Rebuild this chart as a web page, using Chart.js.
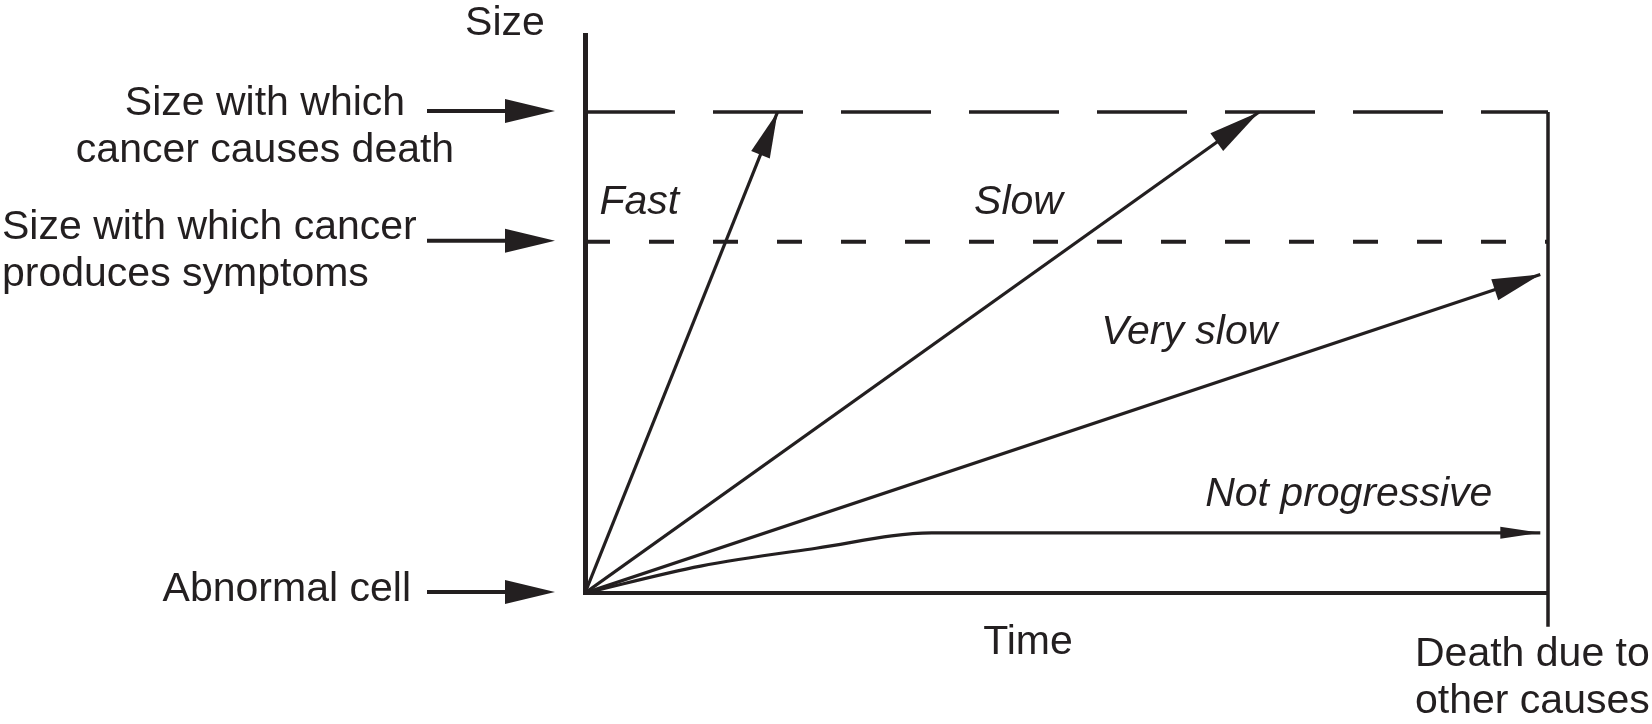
<!DOCTYPE html>
<html>
<head>
<meta charset="utf-8">
<script src="https://cdn.jsdelivr.net/npm/chart.js@4/dist/chart.umd.min.js"></script>
<style>
  html, body { margin: 0; padding: 0; background: #fff; }
  #wrap { width: 1652px; height: 724px; }
</style>
</head>
<body>
<div id="wrap"><canvas id="growthChart" width="1652" height="724"></canvas></div>
<script>
// Time runs 0..100 (death from other causes at 100); size 0 = abnormal cell
const timeRange = [0, 100];
const sizeRange = [0, 116];
const deathSize = 100;
const symptomSize = 73;
const otherDeathTime = 100;
const otherDeathLineSize = [100, -7];

const levelValues = [100, 73, 0];
const levelLabels = [
  ["Size with which", "cancer causes death"],
  ["Size with which cancer", "produces symptoms"],
  ["Abnormal cell"]
];

const growthNames = ["Fast", "Slow", "Very slow", "Not progressive"];
const fastTime = [0, 20];
const fastSize = [0, 100];
const slowTime = [0, 70];
const slowSize = [0, 100];
const verySlowTime = [0, 99.2];
const verySlowSize = [0, 66.2];
const notProgTime = [0, 12, 24, 36, 99.2];
const notProgSize = [0, 5.6, 9.3, 12.5, 12.5];

const axisNames = { y: "Size", x: "Time", end: ["Death due to", "other causes"] };

const INK = "#231f20";
const FONT = '"Liberation Sans", Arial, Helvetica, sans-serif';

function pairs(xs, ys) {
  return xs.map((t, i) => ({ x: t, y: ys[i] }));
}

function growthSet(label, xs, ys, head, extra) {
  return Object.assign({
    label,
    data: pairs(xs, ys),
    borderColor: INK,
    borderWidth: 3.2,
    pointRadius: 0,
    tension: 0,
    fill: false,
    arrow: head
  }, extra || {});
}

const datasets = [
  {
    label: "death level",
    data: pairs(timeRange, [deathSize, deathSize]),
    borderColor: INK,
    borderWidth: 3.5,
    borderDash: [90, 38],
    pointRadius: 0
  },
  {
    label: "symptom level",
    data: pairs(timeRange, [symptomSize, symptomSize]),
    borderColor: INK,
    borderWidth: 4,
    borderDash: [25, 39],
    pointRadius: 0
  },
  {
    label: "other death",
    data: pairs([otherDeathTime, otherDeathTime], otherDeathLineSize),
    borderColor: INK,
    borderWidth: 3.5,
    pointRadius: 0,
    clip: false
  },
  growthSet(growthNames[0], fastTime, fastSize, { len: 46, half: 10 }),
  growthSet(growthNames[1], slowTime, slowSize, { len: 52, half: 11 }),
  growthSet(growthNames[2], verySlowTime, verySlowSize, { len: 48, half: 11 }),
  growthSet(growthNames[3], notProgTime, notProgSize, { len: 40, half: 6 }, { cubicInterpolationMode: "monotone" })
];

function drawHead(ctx, x0, y0, x1, y1, len, half) {
  const a = Math.atan2(y1 - y0, x1 - x0);
  const bx = x1 - len * Math.cos(a);
  const by = y1 - len * Math.sin(a);
  const px = -Math.sin(a) * half;
  const py = Math.cos(a) * half;
  ctx.beginPath();
  ctx.moveTo(x1, y1);
  ctx.lineTo(bx + px, by + py);
  ctx.lineTo(bx - px, by - py);
  ctx.closePath();
  ctx.fill();
}

const annotate = {
  id: "annotate",
  afterDatasetsDraw(chart) {
    const { ctx, chartArea, scales } = chart;
    const xs = scales.x;
    const ys = scales.y;
    ctx.save();
    ctx.fillStyle = INK;
    ctx.strokeStyle = INK;

    // arrowheads on the growth curves
    chart.data.datasets.forEach((ds, i) => {
      if (!ds.arrow) return;
      const pts = chart.getDatasetMeta(i).data;
      const a = pts[pts.length - 2];
      const b = pts[pts.length - 1];
      drawHead(ctx, a.x, a.y, b.x, b.y, ds.arrow.len, ds.arrow.half);
    });

    // pointer arrows from the level labels to the size axis
    const left = chartArea.left;
    ctx.lineWidth = 4;
    levelValues.forEach((v) => {
      const py = ys.getPixelForValue(v) - 1;
      ctx.beginPath();
      ctx.moveTo(left - 158, py);
      ctx.lineTo(left - 70, py);
      ctx.stroke();
      drawHead(ctx, left - 158, py, left - 30, py, 50, 12);
    });

    ctx.font = "41px " + FONT;
    ctx.textBaseline = "alphabetic";

    // level labels
    const yDeath = ys.getPixelForValue(levelValues[0]);
    ctx.textAlign = "center";
    ctx.fillText(levelLabels[0][0], left - 320, yDeath + 3);
    ctx.fillText(levelLabels[0][1], left - 320, yDeath + 50);

    const ySym = ys.getPixelForValue(levelValues[1]);
    ctx.textAlign = "left";
    ctx.fillText(levelLabels[1][0], 2, ySym - 3);
    ctx.fillText(levelLabels[1][1], 2, ySym + 44);

    const yCell = ys.getPixelForValue(levelValues[2]);
    ctx.textAlign = "right";
    ctx.fillText(levelLabels[2][0], left - 174, yCell + 8);

    // axis names
    ctx.textAlign = "center";
    ctx.fillText(axisNames.y, left - 80, chartArea.top);
    ctx.fillText(axisNames.x, xs.getPixelForValue(46), chartArea.bottom + 61);
    ctx.textAlign = "left";
    const xEnd = xs.getPixelForValue(otherDeathTime);
    ctx.fillText(axisNames.end[0], xEnd - 133, chartArea.bottom + 73);
    ctx.fillText(axisNames.end[1], xEnd - 133, chartArea.bottom + 120);

    // growth names, italic, placed in data space
    ctx.font = "italic 41px " + FONT;
    ctx.fillText(growthNames[0], xs.getPixelForValue(1.5), ys.getPixelForValue(78.7));
    ctx.fillText(growthNames[1], xs.getPixelForValue(40.4), ys.getPixelForValue(78.7));
    ctx.fillText(growthNames[2], xs.getPixelForValue(53.6), ys.getPixelForValue(51.7));
    ctx.fillText(growthNames[3], xs.getPixelForValue(64.4), ys.getPixelForValue(18.1));

    ctx.restore();
  }
};

new Chart(document.getElementById("growthChart"), {
  type: "line",
  data: { datasets },
  options: {
    responsive: false,
    animation: false,
    events: [],
    layout: { padding: { left: 585, top: 35, right: 104, bottom: 131 } },
    plugins: {
      legend: { display: false },
      tooltip: { enabled: false }
    },
    scales: {
      x: {
        type: "linear",
        min: timeRange[0],
        max: timeRange[1],
        grid: { display: false, drawTicks: false },
        ticks: { display: false },
        border: { display: true, color: INK, width: 4 }
      },
      y: {
        type: "linear",
        min: sizeRange[0],
        max: sizeRange[1],
        grid: { display: false, drawTicks: false },
        ticks: { display: false },
        border: { display: true, color: INK, width: 5 }
      }
    }
  },
  plugins: [annotate]
});
</script>
</body>
</html>
